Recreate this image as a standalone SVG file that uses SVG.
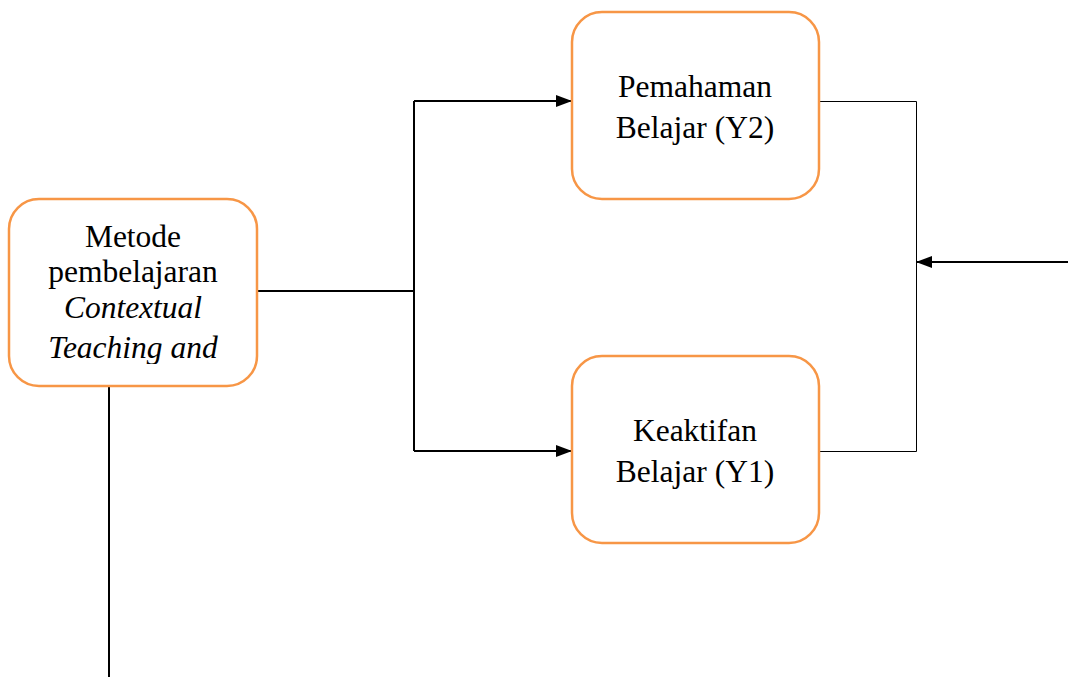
<svg xmlns="http://www.w3.org/2000/svg" width="1068" height="677" viewBox="0 0 1068 677">
<style>
.box{fill:#fff;stroke:#F79646;stroke-width:2.5}
.t{font-family:"Liberation Serif","Times New Roman",serif;font-size:31.5px;fill:#000;text-anchor:middle}
.i{font-style:italic}
.thick{stroke:#000;stroke-width:2;fill:none}
.thin{stroke:#000;stroke-width:1;fill:none}
</style>
<defs>
<marker id="ah" markerWidth="16" markerHeight="12" refX="15" refY="6" orient="auto" markerUnits="userSpaceOnUse">
<path d="M0,0 L16,6 L0,12 Z" fill="#000"/>
</marker>
<clipPath id="c1"><rect x="10" y="200" width="246" height="164"/></clipPath>
</defs>
<rect width="1068" height="677" fill="#fff"/>
<g id="connectors">
<path class="thick" d="M257,291 H414"/>
<path class="thick" d="M414,101 V451"/>
<path class="thick" d="M414,101 H571" marker-end="url(#ah)"/>
<path class="thick" d="M414,451 H571" marker-end="url(#ah)"/>
<path class="thin" d="M819,101.5 H916.5 V451.5 H819"/>
<path class="thick" d="M1068,262 H917" marker-end="url(#ah)"/>
<path class="thick" d="M109,386 V677"/>
</g>
<g id="node-metode">
<rect class="box" x="9" y="199" width="248" height="187" rx="30"/>
<g clip-path="url(#c1)">
<text class="t" x="133" y="247">Metode</text>
<text class="t" x="133" y="282">pembelajaran</text>
<text class="t i" x="133" y="318">Contextual</text>
<text class="t i" x="133" y="358">Teaching and</text>
</g>
</g>
<g id="node-y2">
<rect class="box" x="572" y="12" width="247" height="187" rx="30"/>
<text class="t" x="695" y="97">Pemahaman</text>
<text class="t" x="695" y="138">Belajar (Y2)</text>
</g>
<g id="node-y1">
<rect class="box" x="572" y="356" width="247" height="187" rx="30"/>
<text class="t" x="695" y="441">Keaktifan</text>
<text class="t" x="695" y="482">Belajar (Y1)</text>
</g>
</svg>
